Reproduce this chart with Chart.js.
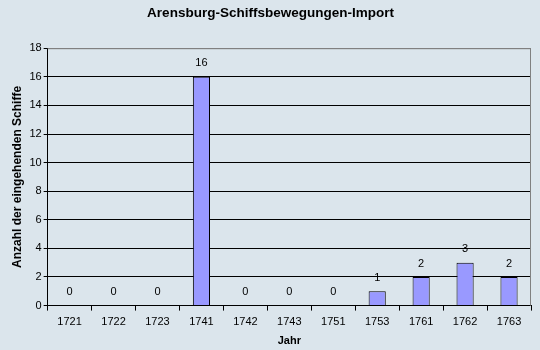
<!DOCTYPE html>
<html>
<head>
<meta charset="utf-8">
<script src="https://cdn.jsdelivr.net/npm/chart.js@4/dist/chart.umd.min.js"></script>
<style>
  html, body { margin: 0; padding: 0; background: #dbe5ec; }
  #wrap { width: 540px; height: 350px; }
</style>
</head>
<body>
<div id="wrap"><canvas id="chart" width="540" height="350"></canvas></div>
<script>
const years = ['1721', '1722', '1723', '1741', '1742', '1743', '1751', '1753', '1761', '1762', '1763'];
const ships = [0, 0, 0, 16, 0, 0, 0, 1, 2, 3, 2];
const yTicks = [0, 2, 4, 6, 8, 10, 12, 14, 16, 18];

const font = 'Liberation Sans, Arial, sans-serif';

// gray frame around the plot area (top + right)
const framePlugin = {
    id: 'frame',
    beforeDatasetsDraw(chart) {
        const { ctx, chartArea: a } = chart;
        ctx.save();
        ctx.strokeStyle = '#808080';
        ctx.lineWidth = 1;
        ctx.beginPath();
        ctx.moveTo(a.left, a.top + 0.5);
        ctx.lineTo(a.right - 0.5, a.top + 0.5);
        ctx.lineTo(a.right - 0.5, a.bottom);
        ctx.stroke();
        ctx.restore();
    }
};

// value labels above each bar
const labelPlugin = {
    id: 'valueLabels',
    afterDatasetsDraw(chart) {
        const { ctx } = chart;
        const meta = chart.getDatasetMeta(0);
        ctx.save();
        ctx.fillStyle = '#000';
        ctx.font = '11px ' + font;
        ctx.textAlign = 'center';
        ctx.textBaseline = 'bottom';
        meta.data.forEach((bar, i) => {
            ctx.fillText(String(ships[i]), bar.x, bar.y - 8);
        });
        ctx.restore();
    }
};

const ctx = document.getElementById('chart').getContext('2d');
new Chart(ctx, {
    type: 'bar',
    data: {
        labels: years,
        datasets: [{
            data: ships,
            backgroundColor: '#9999ff',
            borderColor: '#000',
            borderWidth: 1,
            barPercentage: 0.39,
            categoryPercentage: 1
        }]
    },
    options: {
        responsive: false,
        animation: false,
        layout: { padding: { left: 10, right: 9, top: 0, bottom: 2 } },
        plugins: {
            legend: { display: false },
            tooltip: { enabled: false },
            title: {
                display: true,
                text: 'Arensburg-Schiffsbewegungen-Import',
                color: '#000',
                font: { family: font, size: 13.5, weight: 'bold' },
                padding: { top: 5, bottom: 27 }
            }
        },
        scales: {
            x: {
                offset: true,
                grid: {
                    offset: true,
                    drawOnChartArea: false,
                    color: '#000',
                    tickLength: 5,
                    tickColor: '#000'
                },
                border: { color: '#000' },
                ticks: { color: '#000', font: { family: font, size: 11 }, padding: 5, maxRotation: 0 },
                title: {
                    display: true,
                    text: 'Jahr',
                    color: '#000',
                    font: { family: font, size: 11, weight: 'bold' },
                    padding: { top: 1, bottom: 0 }
                }
            },
            y: {
                min: 0,
                max: 18,
                afterBuildTicks(scale) {
                    scale.ticks = yTicks.map(v => ({ value: v }));
                },
                grid: {
                    color: c => (c.tick && c.tick.value === 18 ? '#808080' : '#000'),
                    tickLength: 4,
                    tickColor: '#000'
                },
                border: { color: '#000' },
                ticks: { color: '#000', font: { family: font, size: 11 }, padding: 2 },
                title: {
                    display: true,
                    text: 'Anzahl der eingehenden Schiffe',
                    color: '#000',
                    font: { family: font, size: 12, weight: 'bold' },
                    padding: { top: 0, bottom: 3 }
                }
            }
        }
    },
    plugins: [framePlugin, labelPlugin]
});
</script>
</body>
</html>
